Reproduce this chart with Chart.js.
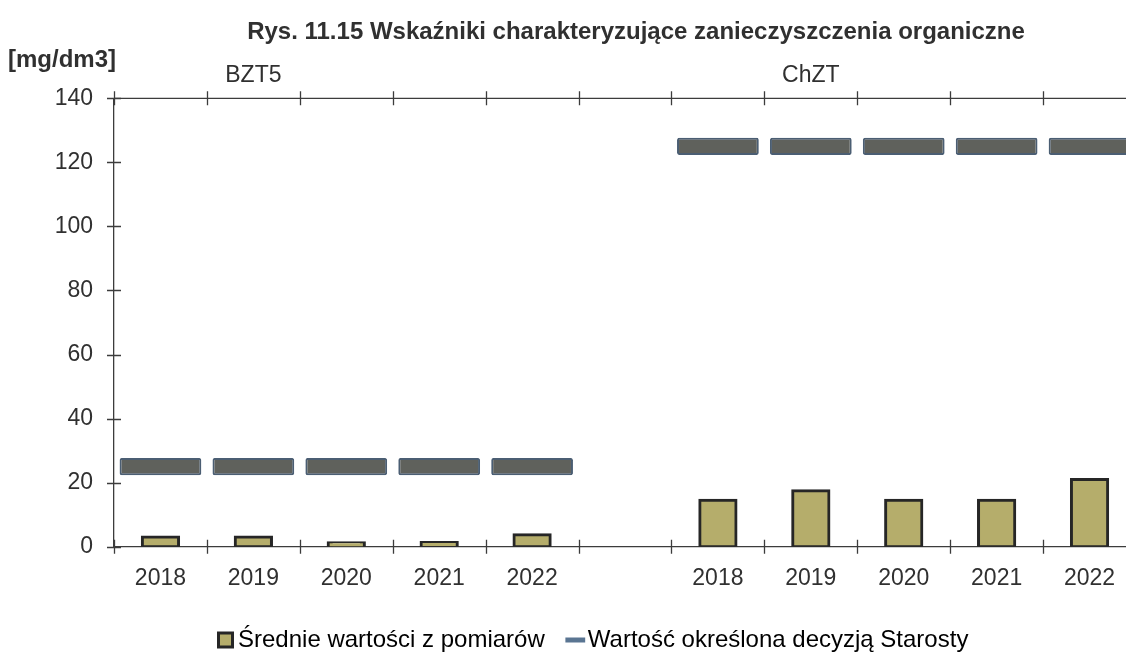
<!DOCTYPE html>
<html>
<head>
<meta charset="utf-8">
<script src="https://cdn.jsdelivr.net/npm/chart.js@4.4.1/dist/chart.umd.min.js"></script>
<style>
  html, body { margin: 0; padding: 0; background: #ffffff; overflow: hidden; }
  #wrap { width: 1136px; height: 658px; }
</style>
</head>
<body>
<div id="wrap"><canvas id="chart" width="1136" height="658"></canvas></div>
<script>
// ---- data ----
const categories = ['2018', '2019', '2020', '2021', '2022', '', '2018', '2019', '2020', '2021', '2022'];
const measuredValues = [3.0, 3.0, 1.2, 1.3, 3.7, null, 14.5, 17.5, 14.5, 14.5, 21.0];
const limitValues = [25, 25, 25, 25, 25, null, 125, 125, 125, 125, 125];
const yTickValues = [0, 20, 40, 60, 80, 100, 120, 140];
const groupLabels = ['BZT5', 'ChZT'];
const groupLabelCategory = [1, 7];
const unitLabel = '[mg/dm3]';
const titleText = 'Rys. 11.15 Wskaźniki charakteryzujące zanieczyszczenia organiczne';
const seriesNames = ['Średnie wartości z pomiarów', 'Wartość określona decyzją Starosty'];

// ---- styling ----
const FONT = "'Liberation Sans', Arial, Helvetica, sans-serif";
const TEXT = '#303030';
const AXIS = '#3c3c3c';
const MEAS_FILL = '#b5ad6b';
const MEAS_BORDER = '#262626';
const LIMIT_FILL = '#5f615c';
const LIMIT_BORDER = '#4b5e73';
const LIMIT_HALF = 2.7; // half thickness of the limit marker, in axis units
const PLOT_BOTTOM = 546.7; // pixel row of the x axis

const limitBars = limitValues.map(v => v == null ? null : [v - LIMIT_HALF, v + LIMIT_HALF]);

const decor = {
  id: 'decor',
  afterLayout(chart) {
    const lg = chart.legend;
    if (lg) {
      const w = lg.right - lg.left, h = lg.bottom - lg.top;
      lg.left = 195; lg.right = lg.left + w;
      lg.top = 598; lg.bottom = lg.top + h;
    }
    const tb = chart.titleBlock;
    if (tb) {
      const w = tb.right - tb.left;
      tb.left = 636 - w / 2; tb.right = tb.left + w;
    }
  },
  afterDraw(chart) {
    const { ctx, scales: { x, y }, chartArea: ca } = chart;
    ctx.save();
    ctx.strokeStyle = AXIS;
    ctx.lineWidth = 1.3;
    const y0 = y.getPixelForValue(yTickValues[0]);
    const yTop = y.getPixelForValue(yTickValues[yTickValues.length - 1]);
    // top frame line
    ctx.beginPath();
    ctx.moveTo(ca.left, yTop);
    ctx.lineTo(ca.right, yTop);
    ctx.stroke();
    // category boundary ticks (bottom and top), crossing the lines
    const step = x.getPixelForValue(1) - x.getPixelForValue(0);
    ctx.beginPath();
    for (let i = 0; i <= categories.length; i++) {
      const px = Math.round(x.getPixelForValue(0) - step / 2 + i * step) + 0.5;
      ctx.moveTo(px, y0 - 7); ctx.lineTo(px, y0 + 7);
      ctx.moveTo(px, yTop - 7); ctx.lineTo(px, yTop + 7);
    }
    // y ticks crossing the axis
    yTickValues.forEach(v => {
      const py = Math.round(y.getPixelForValue(v)) + 0.5;
      ctx.moveTo(ca.left - 7, py); ctx.lineTo(ca.left + 7, py);
    });
    ctx.stroke();
    // unit and group labels
    ctx.fillStyle = TEXT;
    ctx.textBaseline = 'middle';
    ctx.font = 'bold 24px ' + FONT;
    ctx.textAlign = 'left';
    ctx.fillText(unitLabel, 8, 60);
    ctx.font = '23px ' + FONT;
    ctx.textAlign = 'center';
    groupLabels.forEach((t, i) => {
      ctx.fillText(t, x.getPixelForValue(groupLabelCategory[i]), 76);
    });
    ctx.restore();
  }
};

new Chart(document.getElementById('chart'), {
  type: 'bar',
  data: {
    labels: categories,
    datasets: [
      {
        label: seriesNames[0],
        data: measuredValues,
        backgroundColor: MEAS_FILL,
        borderColor: MEAS_BORDER,
        borderWidth: 3,
        borderSkipped: false,
        inflateAmount: 1.5,
        barPercentage: 0.39,
        categoryPercentage: 1,
        grouped: false
      },
      {
        label: seriesNames[1],
        data: limitBars,
        backgroundColor: LIMIT_FILL,
        borderColor: LIMIT_BORDER,
        borderWidth: 2,
        borderRadius: 2,
        borderSkipped: false,
        inflateAmount: 0,
        barPercentage: 0.88,
        categoryPercentage: 1,
        grouped: false
      }
    ]
  },
  options: {
    responsive: false,
    animation: false,
    events: [],
    layout: { padding: 0 },
    scales: {
      x: {
        offset: true,
        grid: { display: false, drawTicks: false },
        border: { display: true, color: AXIS, width: 1.3 },
        ticks: {
          color: TEXT, font: { family: FONT, size: 23 }, padding: 18,
          maxRotation: 0, autoSkip: false
        },
        afterFit(s) {
          const lg = s.chart.legend;
          const lh = (lg && lg.height) ? lg.height : 64.7;
          s.height = s.chart.height - lh - PLOT_BOTTOM;
        }
      },
      y: {
        min: 0, max: 140,
        grid: { display: false, drawTicks: false },
        border: { display: true, color: AXIS, width: 1.3 },
        ticks: { color: TEXT, font: { family: FONT, size: 23 }, padding: 21 },
        afterBuildTicks(s) { s.ticks = yTickValues.map(v => ({ value: v })); },
        afterFit(s) { s.width = 114; }
      }
    },
    plugins: {
      tooltip: { enabled: false },
      title: {
        display: true,
        text: titleText,
        color: TEXT,
        font: { family: FONT, size: 24, weight: 'bold' },
        padding: { top: 17.6, bottom: 51.9 }
      },
      legend: {
        display: true,
        position: 'bottom',
        align: 'start',
        labels: {
          color: '#222',
          font: { family: FONT, size: 24 },
          usePointStyle: true,
          boxWidth: 1,
          boxHeight: 14,
          padding: 30,
          generateLabels() {
            return [
              { text: seriesNames[0], fillStyle: MEAS_FILL, strokeStyle: MEAS_BORDER, lineWidth: 3, pointStyle: 'rect', datasetIndex: 0, hidden: false },
              { text: seriesNames[1], fillStyle: '#5a7592', strokeStyle: '#5a7592', lineWidth: 5, pointStyle: 'line', datasetIndex: 1, hidden: false }
            ];
          }
        }
      }
    }
  },
  plugins: [decor]
});
</script>
</body>
</html>
